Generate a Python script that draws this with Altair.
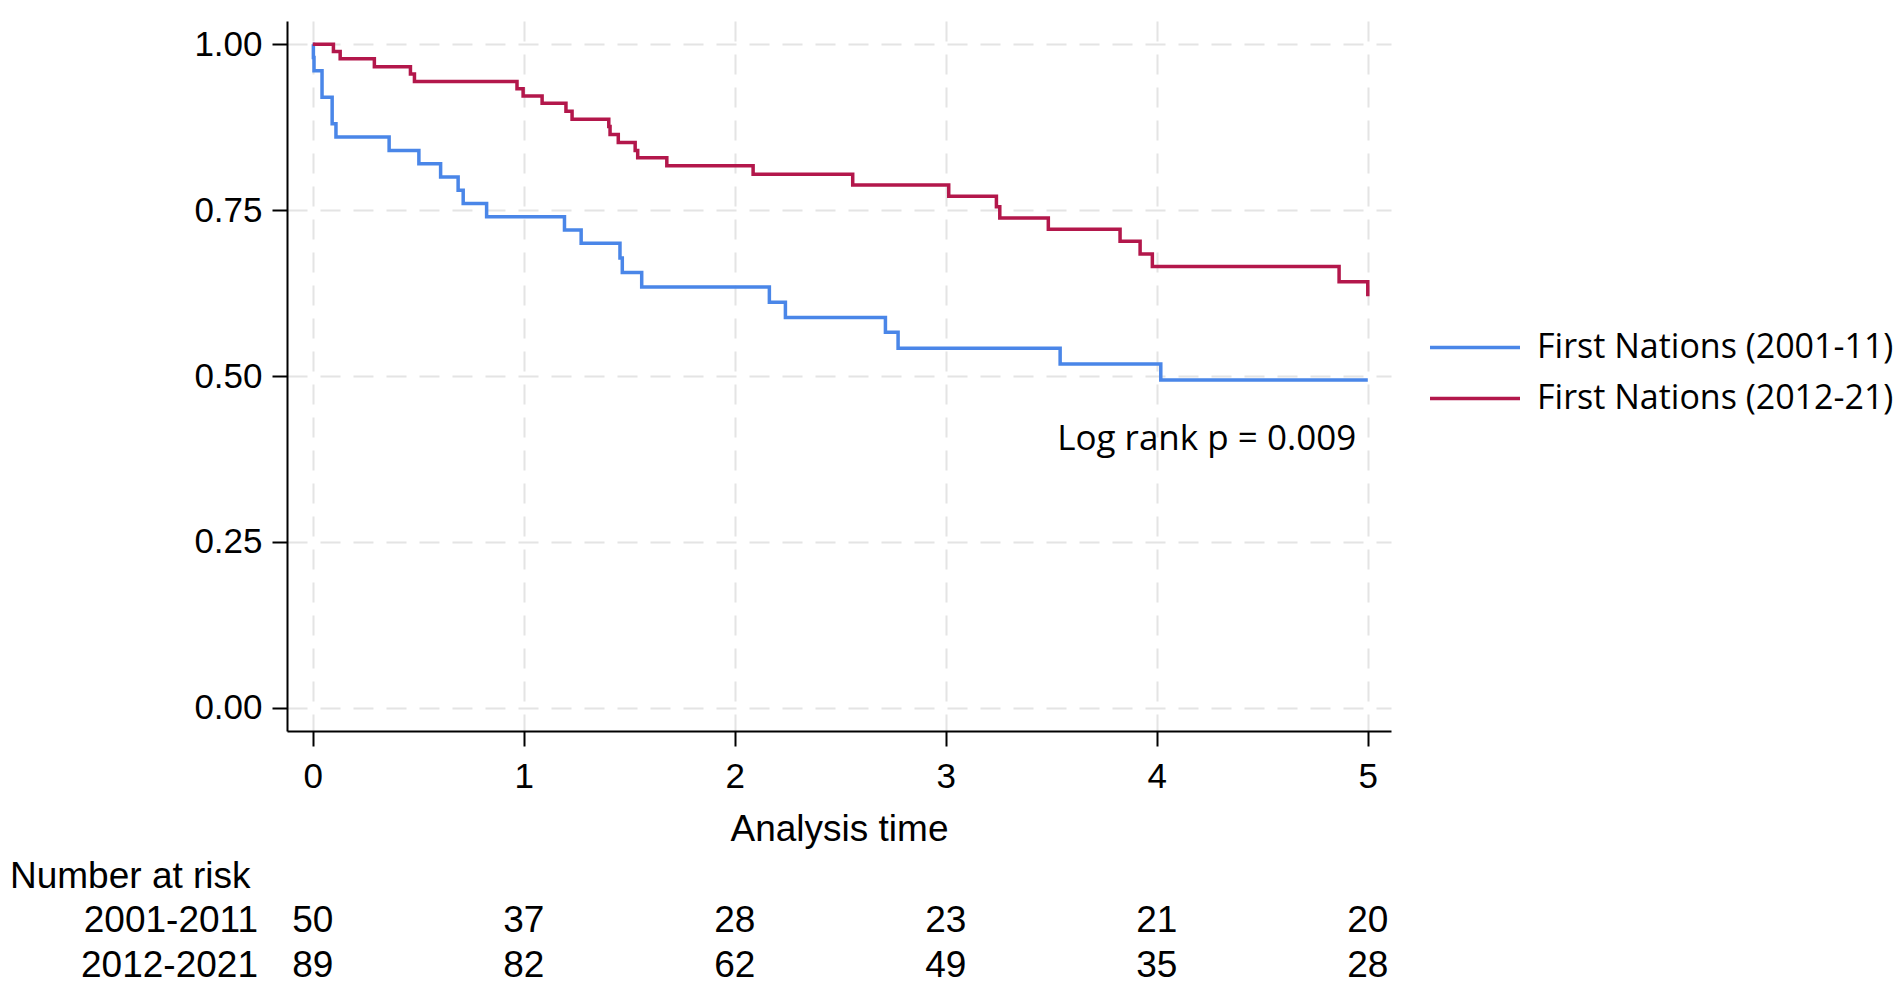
import altair as alt
import pandas as pd

# Kaplan-Meier curves
blue_time = [0, 0.003, 0.006, 0.044, 0.092, 0.11, 0.362, 0.503, 0.606, 0.689, 0.713, 0.824,
             1.193, 1.272, 1.456, 1.467, 1.559, 2.164, 2.240, 2.714, 2.774, 3.542, 4.019, 5.0]
blue_surv = [1.0, 0.98, 0.96, 0.92, 0.88, 0.86, 0.84, 0.82, 0.80, 0.78, 0.76, 0.74,
             0.72, 0.70, 0.678, 0.656, 0.634, 0.611, 0.588, 0.566, 0.542, 0.518, 0.494, 0.494]

red_time = [0, 0.098, 0.13, 0.292, 0.463, 0.482, 0.968, 0.997, 1.087, 1.200, 1.229, 1.403,
            1.409, 1.448, 1.528, 1.540, 1.678, 2.087, 2.559, 3.014, 3.240, 3.256, 3.486,
            3.826, 3.921, 3.979, 4.864, 5.0]
red_surv = [1.0, 0.989, 0.978, 0.966, 0.955, 0.944, 0.933, 0.922, 0.911, 0.899, 0.887, 0.876,
            0.864, 0.852, 0.840, 0.829, 0.817, 0.804, 0.788, 0.771, 0.755, 0.738, 0.721,
            0.703, 0.684, 0.665, 0.642, 0.620]

groups = ["First Nations (2001-11)", "First Nations (2012-21)"]
colors = ["#4A86E8", "#B3174B"]

x_ticks = [0, 1, 2, 3, 4, 5]
y_ticks = [0, 0.25, 0.5, 0.75, 1.0]

risk_times = [0, 1, 2, 3, 4, 5]
risk_2001 = [50, 37, 28, 23, 21, 20]
risk_2012 = [89, 82, 62, 49, 35, 28]
risk_labels = ["2001-2011", "2012-2021"]
risk_header = "Number at risk"

logrank_text = "Log rank p = 0.009"
logrank_at = (4.945, 0.405)

curve = pd.DataFrame({
    "time": blue_time + red_time,
    "surv": blue_surv + red_surv,
    "group": [groups[0]] * len(blue_time) + [groups[1]] * len(red_time),
})

x_scale = alt.Scale(domain=[-0.122, 5.11], nice=False, zero=False)
y_scale = alt.Scale(domain=[-0.035, 1.035], nice=False, zero=False)

lines = alt.Chart(curve).mark_line(interpolate="step-after", strokeWidth=3.5).encode(
    x=alt.X("time:Q", scale=x_scale,
            axis=alt.Axis(values=x_ticks, format="d", title="Analysis time",
                          labelPadding=13, titlePadding=17, labelFlush=False)),
    y=alt.Y("surv:Q", scale=y_scale,
            axis=alt.Axis(values=y_ticks, format=".2f", title=None, labelPadding=10)),
    color=alt.Color("group:N", scale=alt.Scale(domain=groups, range=colors),
                    legend=alt.Legend(title=None, orient="none", legendX=1141, legendY=301,
                                      symbolType="stroke", symbolSize=8100,
                                      symbolStrokeWidth=3.5, labelFont="Open Sans",
                                      labelFontSize=34, labelColor="black",
                                      labelOffset=15, labelLimit=600, clipHeight=51,
                                      rowPadding=0, padding=0)),
)

logrank = alt.Chart(pd.DataFrame({"label": [logrank_text]})).mark_text(
    align="right", baseline="middle", font="Open Sans", fontSize=35, color="black"
).encode(x=alt.datum(logrank_at[0]), y=alt.datum(logrank_at[1]), text="label:N")

text_style = dict(baseline="middle", font="Liberation Sans", fontSize=37, color="black")

risk1 = alt.Chart(pd.DataFrame({"time": risk_times, "n": risk_2001})).mark_text(
    align="center", **text_style
).encode(x=alt.X("time:Q", scale=x_scale), y=alt.value(900), text="n:Q")

risk2 = alt.Chart(pd.DataFrame({"time": risk_times, "n": risk_2012})).mark_text(
    align="center", **text_style
).encode(x=alt.X("time:Q", scale=x_scale), y=alt.value(944.5), text="n:Q")

label1 = alt.Chart(pd.DataFrame({"label": [risk_labels[0]]})).mark_text(
    align="right", **text_style
).encode(x=alt.value(-29), y=alt.value(900), text="label:N")

label2 = alt.Chart(pd.DataFrame({"label": [risk_labels[1]]})).mark_text(
    align="right", **text_style
).encode(x=alt.value(-29), y=alt.value(944.5), text="label:N")

header = alt.Chart(pd.DataFrame({"label": [risk_header]})).mark_text(
    align="left", **text_style
).encode(x=alt.value(-277), y=alt.value(856), text="label:N")

chart = alt.layer(lines, logrank, risk1, risk2, label1, label2, header).properties(
    width=1104, height=710,
    padding={"left": 279, "top": 13, "right": 503, "bottom": 252},
    autosize=alt.AutoSizeParams(type="none"),
).configure_view(stroke=None).configure_axis(
    domainColor="black", domainWidth=2, tickColor="black", tickWidth=2, tickSize=15,
    labelFont="Liberation Sans", labelFontSize=35, labelColor="black",
    titleFont="Liberation Sans", titleFontSize=37, titleColor="black",
    titleFontWeight="normal",
    grid=True, gridColor="#E4E4E4", gridDash=[20, 13], gridWidth=2,
)

chart.save("out.html", embed_options={"renderer": "svg", "actions": False})
